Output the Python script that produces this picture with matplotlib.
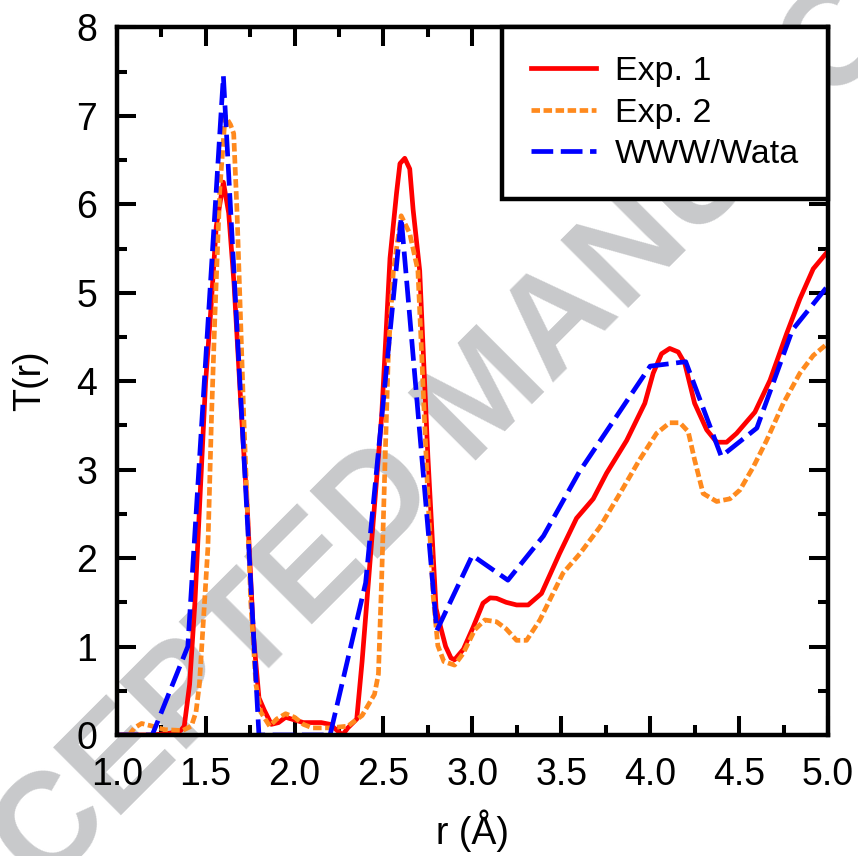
import matplotlib
matplotlib.use('Agg')
import matplotlib.pyplot as plt
from matplotlib.ticker import MultipleLocator, FormatStrFormatter

plt.rcParams['font.family'] = ['Liberation Sans', 'DejaVu Sans']

# Exp. 1 (red, solid)
r_exp1 = [1.0, 1.1, 1.2, 1.3, 1.36, 1.38, 1.41, 1.44, 1.465, 1.5, 1.53, 1.56, 1.6, 1.63,
          1.66, 1.7, 1.735, 1.77, 1.8, 1.83, 1.87, 1.91, 1.95, 2.0, 2.05, 2.1, 2.15, 2.2,
          2.24, 2.27, 2.3, 2.35, 2.38, 2.435, 2.49, 2.537, 2.574, 2.593, 2.62, 2.648, 2.667,
          2.704, 2.75, 2.796, 2.824, 2.85, 2.88, 2.9, 2.95, 3.005, 3.06, 3.1, 3.136, 3.19,
          3.249, 3.314, 3.389, 3.49, 3.586, 3.68, 3.755, 3.868, 3.97, 4.017, 4.064, 4.11,
          4.158, 4.195, 4.25, 4.318, 4.374, 4.43, 4.486, 4.589, 4.674, 4.768, 4.842, 4.917, 5.0]
t_exp1 = [0.0, 0.0, 0.0, 0.02, 0.05, 0.1, 0.57, 1.5, 2.54, 3.99, 4.82, 5.75, 6.25, 5.9,
          5.1, 3.68, 2.54, 1.1, 0.42, 0.28, 0.12, 0.14, 0.2, 0.17, 0.14, 0.14, 0.14, 0.12,
          0.05, 0.0, 0.08, 0.18, 0.83, 2.22, 3.6, 5.39, 6.13, 6.46, 6.52, 6.4, 5.94,
          5.25, 3.15, 1.43, 1.2, 1.0, 0.87, 0.85, 0.97, 1.22, 1.49, 1.55, 1.545, 1.5,
          1.47, 1.47, 1.6, 2.05, 2.45, 2.67, 2.96, 3.33, 3.75, 4.09, 4.31, 4.37,
          4.33, 4.2, 3.75, 3.45, 3.31, 3.31, 3.41, 3.65, 4.01, 4.54, 4.93, 5.27, 5.47]

# Exp. 2 (orange, dotted)
r_exp2 = [1.0, 1.07, 1.1, 1.14, 1.2, 1.27, 1.37, 1.42, 1.446, 1.465, 1.494, 1.513, 1.533,
          1.552, 1.58, 1.61, 1.64, 1.658, 1.677, 1.715, 1.735, 1.754, 1.783, 1.81, 1.86,
          1.9, 1.95, 2.0, 2.05, 2.1, 2.2, 2.3, 2.38, 2.45, 2.472, 2.49, 2.51, 2.528, 2.556,
          2.6, 2.648, 2.694, 2.72, 2.75, 2.78, 2.806, 2.84, 2.9, 2.948, 3.014, 3.07, 3.136,
          3.19, 3.249, 3.305, 3.38, 3.51, 3.605, 3.717, 3.83, 3.94, 4.036, 4.11, 4.167,
          4.214, 4.25, 4.298, 4.374, 4.449, 4.505, 4.58, 4.655, 4.749, 4.842, 4.917, 5.0]
t_exp2 = [0.0, 0.0, 0.08, 0.13, 0.1, 0.06, 0.05, 0.1, 0.26, 0.57, 1.5, 2.12, 3.58,
          4.72, 6.17, 7.0, 6.9, 6.8, 5.9, 3.58, 2.54, 1.5, 0.57, 0.26, 0.1,
          0.18, 0.24, 0.2, 0.12, 0.08, 0.08, 0.1, 0.22, 0.46, 0.69, 1.76, 3.15, 4.32, 5.25,
          5.87, 5.67, 5.25, 4.08, 2.69, 1.57, 1.01, 0.83, 0.79, 0.92, 1.19, 1.3, 1.28,
          1.2, 1.07, 1.07, 1.3, 1.83, 2.05, 2.35, 2.73, 3.11, 3.41, 3.53, 3.53,
          3.43, 3.11, 2.73, 2.64, 2.67, 2.77, 3.03, 3.33, 3.75, 4.09, 4.29, 4.43]

# WWW/Wata (blue, dashed)
r_sim = [1.0, 1.2, 1.4, 1.6, 1.8, 2.0, 2.2, 2.4, 2.6, 2.8, 3.0, 3.2, 3.4, 3.6, 3.8,
         4.0, 4.2, 4.4, 4.6, 4.8, 5.0]
t_sim = [0.0, 0.0, 1.0, 7.45, 0.0, 0.0, 0.0, 1.72, 5.85, 1.18, 2.03, 1.75, 2.25, 2.97, 3.57,
         4.17, 4.22, 3.15, 3.47, 4.58, 5.08]

fig = plt.figure(figsize=(8.58, 8.56), dpi=100)
ax = fig.add_axes([0.136, 0.1414, 0.829, 0.8266])
ax.patch.set_facecolor('none')
ax.set_zorder(1)

# watermark sits under the axes
fig.text(0.568, 0.535, 'ACCEPTED MANUSCRIPT', fontsize=100, fontweight='bold',
         color='#c8c9cb', rotation=45, ha='center', va='center',
         rotation_mode='anchor', zorder=0)

ax.plot(r_exp1, t_exp1, color='#ff0000', lw=3.4, label='Exp. 1')
ax.plot(r_exp2, t_exp2, color='#ff8a1e', lw=3.4, linestyle=(0, (1.8, 0.75)), label='Exp. 2')
ax.plot(r_sim, t_sim, color='#0000ff', lw=3.4, linestyle=(0, (4.6, 1.6)), label='WWW/Wata')

ax.set_xlim(1.0, 5.0)
ax.set_ylim(0, 8)
ax.xaxis.set_major_locator(MultipleLocator(0.5))
ax.xaxis.set_minor_locator(MultipleLocator(0.25))
ax.yaxis.set_major_locator(MultipleLocator(1))
ax.yaxis.set_minor_locator(MultipleLocator(0.5))
ax.xaxis.set_major_formatter(FormatStrFormatter('%.1f'))

ax.tick_params(which='both', direction='in', top=True, right=True, width=2.9, labelsize=27)
ax.tick_params(which='major', length=14)
ax.tick_params(which='minor', length=7)
ax.tick_params(axis='x', pad=16)
ax.tick_params(axis='y', pad=14)
for s in ax.spines.values():
    s.set_linewidth(3.2)

ax.set_xlabel('r (Å)', fontsize=27, labelpad=12)
ax.set_ylabel('T(r)', fontsize=27, labelpad=20)

leg = ax.legend(loc='upper right', fontsize=24.5, frameon=True, fancybox=False,
                borderaxespad=0, handlelength=1.9, handletextpad=0.56,
                labelspacing=0.3, borderpad=0.85)
leg.get_frame().set_edgecolor('black')
leg.get_frame().set_linewidth(3.2)
leg.get_frame().set_alpha(1)

fig.savefig('out.png', dpi=100)
